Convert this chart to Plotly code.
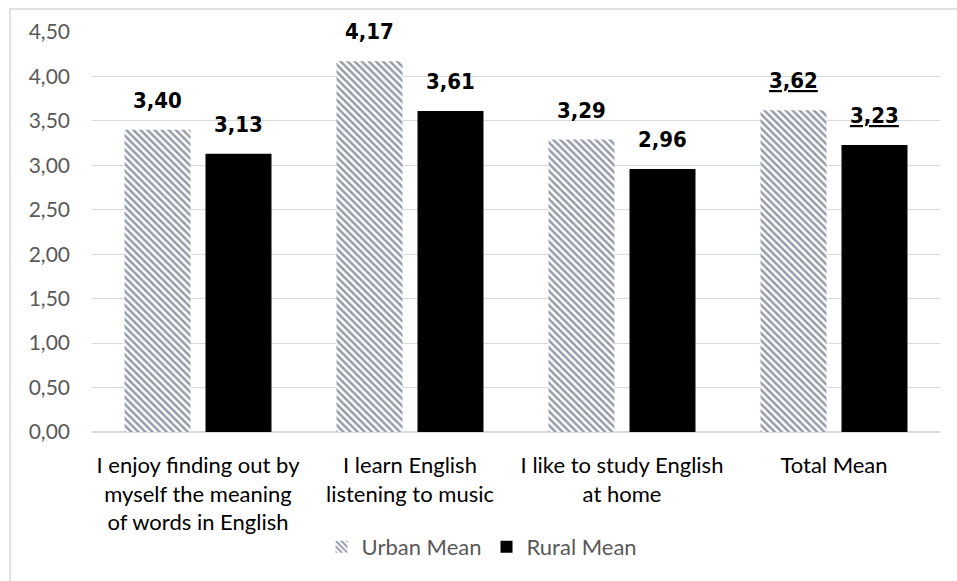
import plotly.graph_objects as go

categories = [
    "I enjoy finding out by<br>myself the meaning<br>of words in English",
    "I learn English<br>listening to music",
    "I like to study English<br>at home",
    "Total Mean",
]
urban_mean = [3.40, 4.17, 3.29, 3.62]
rural_mean = [3.13, 3.61, 2.96, 3.23]
underlined = [False, False, False, True]

label_font = dict(family="DejaVu Sans Condensed, DejaVu Sans", size=22, color="black")


def fmt(v, u):
    s = "<b>" + f"{v:.2f}".replace(".", ",") + "</b>"
    return f"<u>{s}</u>" if u else s


fig = go.Figure()
fig.add_trace(go.Bar(
    name="Urban Mean", x=categories, y=urban_mean,
    marker=dict(color="white", line=dict(width=0),
                pattern=dict(shape="\\", fgcolor="#2b3850", bgcolor="white",
                             size=5, solidity=0.5)),
))
fig.add_trace(go.Bar(
    name="Rural Mean", x=categories, y=rural_mean,
    marker=dict(color="black", line=dict(width=0)),
))

# value labels above each bar
for i, c in enumerate(categories):
    for off, vals in ((-0.5, urban_mean), (0.5, rural_mean)):
        fig.add_annotation(
            x=c, y=vals[i], xref="x", yref="y", text=fmt(vals[i], underlined[i]),
            showarrow=False, yanchor="bottom", yshift=15,
            xshift=off * 81, font=label_font,
        )

# chart-area frame
fig.add_shape(type="rect", xref="paper", yref="paper",
              x0=-0.0967, x1=1.1, y0=-0.6, y1=1.0575,
              line=dict(color="#d9d9d9", width=1.5), fillcolor="rgba(0,0,0,0)",
              layer="below")

fig.update_layout(
    width=957, height=581,
    margin=dict(l=92, r=17, t=32, b=149),
    paper_bgcolor="white", plot_bgcolor="white",
    separators=",.",
    barmode="group", bargap=0.236, bargroupgap=0.185,
    font=dict(family="Lato", size=20, color="#595959"),
    legend=dict(orientation="h", x=0.46, xanchor="center", y=-0.2875,
                yanchor="middle", font=dict(size=22, color="#595959"),
                itemwidth=30, traceorder="normal"),
    xaxis=dict(showgrid=False, showline=False, ticks="",
               tickfont=dict(size=22, color="black"), ticklabelstandoff=18),
    yaxis=dict(range=[0, 4.5], dtick=0.5, tickformat=".2f",
               showgrid=True, gridcolor="#d9d9d9", gridwidth=1,
               zeroline=True, zerolinecolor="#d9d9d9", zerolinewidth=1.5,
               showline=False, ticks="", ticklabelstandoff=21,
               tickfont=dict(size=21, color="#595959")),
)

fig.write_html("out.html")
